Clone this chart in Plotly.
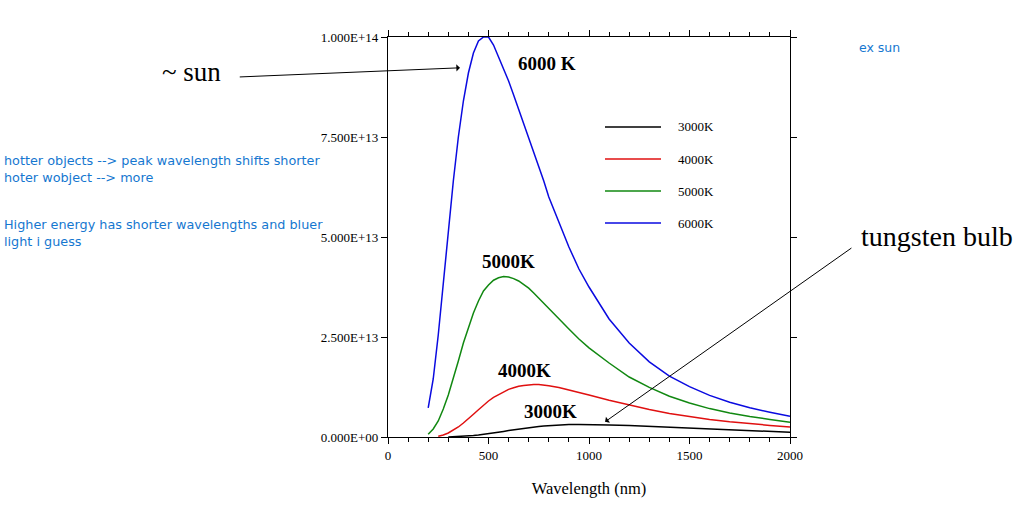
import plotly.graph_objects as go

# Spectral exitance (units of 1e13)
wl = [200, 225, 250, 275, 300, 325, 350, 375, 400, 425, 450, 475, 500, 525, 550, 575,
      600, 625, 650, 675, 700, 725, 750, 775, 800, 850, 900, 950, 1000,
      1100, 1200, 1300, 1400, 1500, 1600, 1700, 1800, 1900, 2000]
t6000 = [0.73, 1.45, 2.55, 3.85, 5.15, 6.4, 7.5, 8.4, 9.1, 9.6, 9.9, 10.0, 10.0, 9.8, 9.5, 9.2,
         8.9, 8.55, 8.2, 7.8, 7.45, 7.1, 6.75, 6.4, 6.0, 5.35, 4.75, 4.2, 3.75,
         2.95, 2.35, 1.88, 1.52, 1.26, 1.04, 0.87, 0.73, 0.62, 0.52]
t5000 = [0.07, 0.2, 0.4, 0.7, 1.05, 1.45, 1.9, 2.35, 2.75, 3.1, 3.4, 3.65, 3.8, 3.92, 3.98, 4.01,
         4.0, 3.96, 3.9, 3.82, 3.72, 3.6, 3.47, 3.34, 3.2, 2.95, 2.7, 2.45, 2.23,
         1.85, 1.5, 1.24, 1.02, 0.85, 0.71, 0.6, 0.51, 0.44, 0.37]
t4000 = [None, None, 0.02, 0.05, 0.1, 0.17, 0.25, 0.35, 0.45, 0.57, 0.68, 0.8, 0.9, 0.99, 1.06, 1.13,
         1.19, 1.23, 1.27, 1.29, 1.31, 1.315, 1.31, 1.3, 1.28, 1.24, 1.18, 1.12, 1.05,
         0.92, 0.8, 0.69, 0.59, 0.51, 0.44, 0.38, 0.33, 0.29, 0.25]
t3000 = [None, None, None, None, 0.0, 0.005, 0.01, 0.017, 0.025, 0.037, 0.05, 0.065, 0.08, 0.1, 0.12, 0.14,
         0.16, 0.18, 0.2, 0.22, 0.235, 0.25, 0.265, 0.275, 0.285, 0.3, 0.31, 0.313, 0.313,
         0.3, 0.285, 0.265, 0.24, 0.215, 0.19, 0.17, 0.15, 0.135, 0.12]

series_names = ["3000K", "4000K", "5000K", "6000K"]
series_vals = [t3000, t4000, t5000, t6000]
series_colors = ["#000000", "#e01010", "#118811", "#0a0ae0"]
curve_labels = ["3000K", "4000K", "5000K", "6000 K"]
label_pos = [(806, 0.65), (677, 1.67), (597, 4.4), (791, 9.35)]

ytick_vals = [0, 2.5, 5.0, 7.5, 10.0]
ytick_text = ["0.000E+00", "2.500E+13", "5.000E+13", "7.500E+13", "1.000E+14"]
xtick_vals = [0, 500, 1000, 1500, 2000]

notes = [["hotter objects --> peak wavelength shifts shorter",
          "hoter wobject --> more"],
         ["Higher energy has shorter wavelengths and bluer",
          "light i guess"]]

fig = go.Figure()
for name, vals, col in zip(series_names, series_vals, series_colors):
    fig.add_trace(go.Scatter(x=wl, y=vals, mode="lines", name=name,
                             line=dict(color=col, width=1.5), showlegend=False))

W, H = 1028, 507
L, R, T, B = 388, 790, 37, 437


def px(xp):
    return (xp - L) / (R - L)


def py(yp):
    return (B - yp) / (B - T)


ann = []
for txt, (lx, ly) in zip(curve_labels, label_pos):
    ann.append(dict(x=lx, y=ly, xref="x", yref="y", text="<b>%s</b>" % txt, showarrow=False,
                    yanchor="middle", font=dict(family="Liberation Serif", size=19, color="black")))

# custom legend
for i, (name, col) in enumerate(zip(series_names, series_colors)):
    yy = py(127 + 32 * i)
    fig.add_shape(type="line", xref="paper", yref="paper", x0=px(605), x1=px(661), y0=yy, y1=yy,
                  line=dict(color=col, width=1.5))
    ann.append(dict(x=px(676), y=yy, xref="paper", yref="paper", text=name, showarrow=False,
                    xanchor="left", yanchor="middle",
                    font=dict(family="Liberation Serif", size=13, color="black")))

# arrows
ann.append(dict(x=358, y=9.23, xref="x", yref="y", ax=-745, ay=9.0, axref="x", ayref="y",
                text="", showarrow=True, arrowhead=1, arrowsize=1.2, arrowwidth=1, arrowcolor="black"))
ann.append(dict(x=1080, y=0.38, xref="x", yref="y", ax=2313, ay=4.75, axref="x", ayref="y",
                text="", showarrow=True, arrowhead=1, arrowsize=1.2, arrowwidth=1, arrowcolor="black"))
ann.append(dict(x=px(160), y=py(72), xref="paper", yref="paper", text="~ sun", showarrow=False,
                xanchor="left", yanchor="middle", font=dict(family="Liberation Serif", size=27, color="black")))
ann.append(dict(x=px(859), y=py(236), xref="paper", yref="paper", text="tungsten bulb", showarrow=False,
                xanchor="left", yanchor="middle", font=dict(family="Liberation Serif", size=28, color="black")))
ann.append(dict(x=px(857), y=py(48), xref="paper", yref="paper", text="ex sun", showarrow=False,
                xanchor="left", yanchor="middle", font=dict(family="DejaVu Sans", size=12.5, color="#1577d0")))
for pair, yp in zip(notes, [169, 233]):
    ann.append(dict(x=px(2), y=py(yp), xref="paper", yref="paper", text="<br>".join(pair),
                    showarrow=False, xanchor="left", yanchor="middle", align="left",
                    font=dict(family="DejaVu Sans", size=12.8, color="#1577d0")))

axis_common = dict(showline=True, linecolor="black", linewidth=1.2, mirror="allticks",
                   ticks="outside", tickcolor="black", showgrid=False, zeroline=False)

fig.update_layout(
    width=W, height=H,
    margin=dict(l=L, r=W - R, t=T, b=H - B),
    paper_bgcolor="white", plot_bgcolor="white",
    annotations=ann,
    xaxis=dict(range=[0, 2000], tickvals=xtick_vals, ticklen=6,
               minor=dict(dtick=100, ticks="outside", ticklen=4, tickcolor="black"),
               title=dict(text="Wavelength (nm)", font=dict(family="Liberation Serif", size=16.5, color="black"),
                          standoff=20),
               tickfont=dict(family="Liberation Serif", size=13, color="black"), **axis_common),
    yaxis=dict(range=[0, 10.0], tickvals=ytick_vals, ticktext=ytick_text, ticklen=6,
               tickfont=dict(family="Liberation Serif", size=13, color="black"), **axis_common),
)

fig.write_html("out.html")
